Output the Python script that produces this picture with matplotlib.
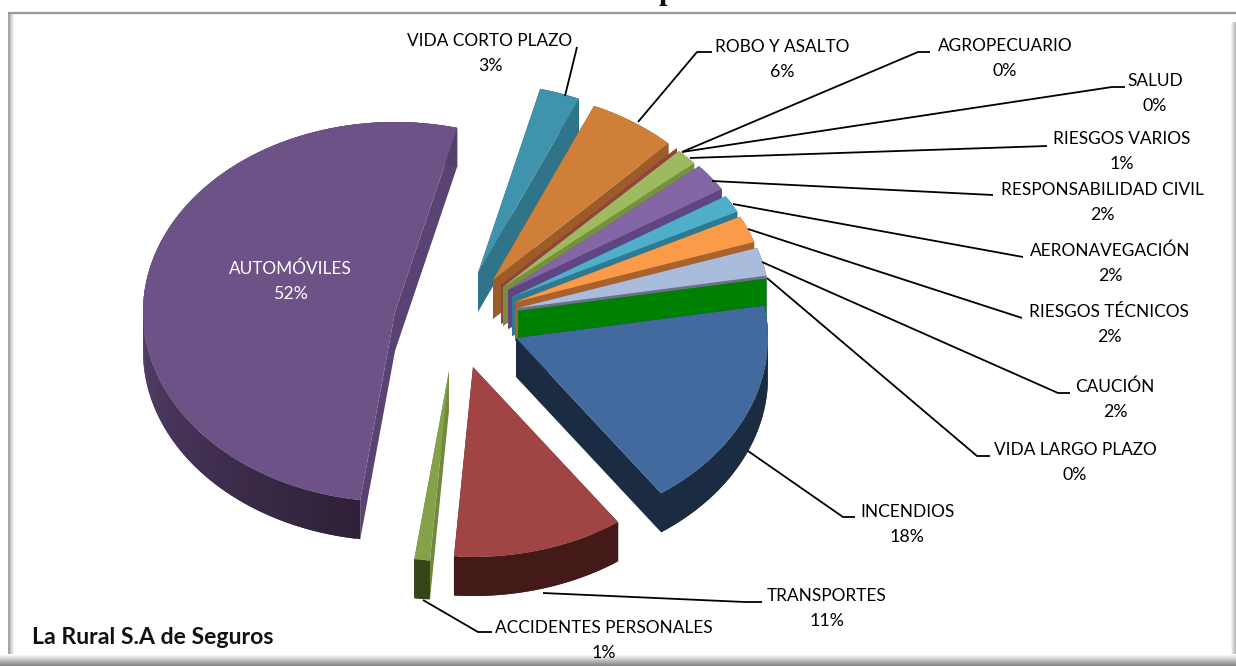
import numpy as np
import matplotlib
matplotlib.use("Agg")
import matplotlib.pyplot as plt
from matplotlib.patches import Polygon, Rectangle

# slices in drawing order of the pie, clockwise from the first one
names = ["INCENDIOS", "TRANSPORTES", "ACCIDENTES PERSONALES", "AUTOMÓVILES",
         "VIDA CORTO PLAZO", "ROBO Y ASALTO", "AGROPECUARIO", "SALUD",
         "RIESGOS VARIOS", "RESPONSABILIDAD CIVIL", "AERONAVEGACIÓN",
         "RIESGOS TÉCNICOS", "CAUCIÓN", "VIDA LARGO PLAZO"]
values = [18.0, 11.0, 1.0, 51.9, 2.6, 5.7, 0.03, 0.03, 1.4, 2.4, 1.5, 2.3, 2.4, 0.0]
shown = ["18%", "11%", "1%", "52%", "3%", "6%", "0%", "0%", "1%", "2%", "2%", "2%", "2%", "0%"]

# layout
START = -9.8
RX, RY, DEPTH = 252, 190, 39
apex_x = [516, 473, 449, 395, 478, 493, 501, 501, 503, 508, 512, 515, 518, 518]
apex_y = [338, 367, 371, 312, 273, 280, 285, 285, 287, 290, 297, 302, 308, 311]

top_col = ["#426a9e", "#a04543", "#84a24a", "#6d5288", "#3f93ad", "#d07f38", "#a04543",
           "#a04543", "#9dba5e", "#8466a6", "#4fafca", "#fb9a48", "#aabcdc", "#008000"]
side_col = ["#1a2b42", "#431a17", "#6f8a3c", "#5a4272", "#2f7488", "#9c5c28", "#934240",
            "#934240", "#76903f", "#5f4682", "#2f7a90", "#a9622c", "#6a7186", "#008000"]
rim_dark = ["#1a2b42", "#431a17", "#364418", "#2e2038", "#2f7488", "#9c5c28", "#934240",
            "#934240", "#76903f", "#5f4682", "#2f7a90", "#a9622c", "#6a7186", "#008000"]
rim_light = ["#1a2b42", "#431a17", "#364418", "#534069", "#2f7488", "#9c5c28", "#934240",
             "#934240", "#76903f", "#5f4682", "#2f7a90", "#a9622c", "#6a7186", "#008000"]
draw_order = [3, 2, 1, 4, 5, 6, 7, 8, 9, 10, 11, 12, 13, 0]

label_x = [907, 827, 604, 290, 490, 782, 1005, 1155, 1122, 1102, 1110, 1109, 1115, 1075]
label_y = [512, 596, 628, 269, 41, 47, 46, 81, 139, 190, 251, 312, 387, 450]
leader_x = [[855, 843, 748], [762, 745, 543], [492, 478, 423], None, [577, 565], [712, 697, 638],
            [930, 918, 682], [1125, 1112, 682], [1047, 690], [993, 712], [1023, 733], [1022, 748],
            [1070, 1058, 762], [990, 977, 767]]
leader_y = [[517, 517, 451], [602, 602, 593], [632, 632, 600], None, [47, 96], [52, 52, 122],
            [52, 52, 152], [87, 87, 152], [146, 158], [195, 181], [257, 204], [318, 229],
            [393, 393, 262], [456, 456, 278]]

plt.rcParams["font.family"] = ["Lato", "DejaVu Sans"]

fig = plt.figure(figsize=(12.36, 6.66), dpi=100)
ax = fig.add_axes([0, 0, 1, 1])
ax.set_xlim(0, 1236)
ax.set_ylim(666, 0)
ax.axis("off")


def rim(i, t):
    return apex_x[i] + RX * np.cos(np.radians(t)), apex_y[i] + RY * np.sin(np.radians(t))


def blend(c1, c2, f):
    a = np.array(matplotlib.colors.to_rgb(c1))
    b = np.array(matplotlib.colors.to_rgb(c2))
    return tuple(a + (b - a) * f)


# frame with soft bevel
for k in range(12):
    g = 0.52 + 0.48 * k / 11
    ax.add_patch(Rectangle((0, 654 + 12 - k - 1), 1236, 1, fc=(g, g, g), ec="none", zorder=5))
for k in range(6):
    g = 0.72 + 0.28 * k / 5
    ax.add_patch(Rectangle((9 + k, 13), 1, 650, fc=(g, g, g), ec="none", zorder=1))
    ax.add_patch(Rectangle((1235 - k, 22), 1, 640, fc=(g, g, g), ec="none", zorder=1))
ax.plot([9, 1236], [12.5, 12.5], color="#9a9a9a", lw=1.6, zorder=2)
ax.plot([9, 9], [12.5, 660], color="#9a9a9a", lw=1.2, zorder=2)

# the title is cut by the top of the picture
ax.text(667, -1, "p", family="Liberation Serif", weight="bold", fontsize=22,
        ha="center", va="baseline", color="#111111")

ends = START + np.cumsum(values) / sum(values) * 360
starts = np.r_[START, ends[:-1]]

z = 10
for i in draw_order:
    t0, t1 = starts[i], ends[i]
    ts = np.linspace(t0, t1, max(2, int(t1 - t0) + 2))
    x0, y0 = apex_x[i], apex_y[i]
    # cut walls
    for t in (t0, t1):
        x, y = rim(i, t)
        ax.add_patch(Polygon([(x0, y0), (x, y), (x, y + DEPTH), (x0, y0 + DEPTH)],
                             fc=side_col[i], ec="none", zorder=z))
    # outer wall, shaded piece by piece; each piece runs under the next so no seams show
    step = ts[1] - ts[0]
    for a in ts[:-1]:
        part = np.linspace(a, min(a + 2 * step, t1), 4)
        wx, wy = rim(i, part)
        c = blend(rim_dark[i], rim_light[i], min((a - t0) / 82, 1))
        ax.add_patch(Polygon(np.c_[np.r_[wx, wx[::-1]], np.r_[wy, wy[::-1] + DEPTH]],
                             fc=c, ec="none", zorder=z))
    # top face
    px, py = rim(i, ts)
    if values[i] > 0:
        ax.add_patch(Polygon(np.c_[np.r_[x0, px], np.r_[y0, py]], fc=top_col[i], ec="none", zorder=z + 0.5))
    z += 1

for i in range(len(names)):
    col = "white" if names[i] == "AUTOMÓVILES" else "black"
    ax.text(label_x[i], label_y[i], names[i], fontsize=12.4, ha="center", va="center", color=col, zorder=40)
    ax.text(label_x[i], label_y[i] + 25, shown[i], fontsize=12.8, ha="center", va="center", color=col, zorder=40)
    if leader_x[i] is not None:
        ax.plot(leader_x[i], leader_y[i], color="black", lw=1.3, zorder=30, solid_capstyle="butt")

ax.text(32, 637, "La Rural S.A de Seguros", fontsize=16.6, weight="bold", ha="left", va="center",
        color="#111111", zorder=40)

fig.savefig("out.png", dpi=100)
